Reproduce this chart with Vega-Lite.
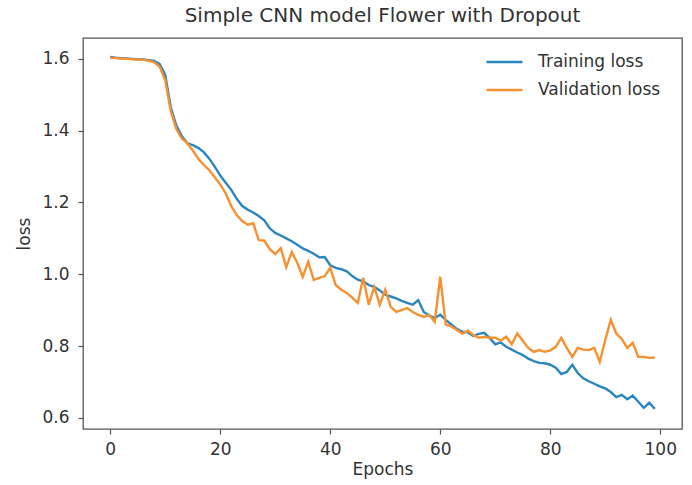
{
  "$schema": "https://vega.github.io/schema/vega-lite/v6.json",
  "autosize": "none",
  "width": 599,
  "height": 391,
  "padding": {"left": 83, "top": 38, "right": 10, "bottom": 56},
  "background": "white",
  "title": {
    "text": "Simple CNN model Flower with Dropout",
    "anchor": "middle",
    "font": "DejaVu Sans",
    "fontSize": 20,
    "fontWeight": "normal",
    "color": "#333333",
    "offset": 12
  },
  "config": {
    "view": {"stroke": "#555555", "strokeWidth": 1.3},
    "axis": {
      "grid": false,
      "domain": false,
      "tickColor": "#555555",
      "tickSize": 5,
      "tickWidth": 1.2,
      "labelFont": "DejaVu Sans",
      "labelFontSize": 17,
      "labelColor": "#333333",
      "titleFont": "DejaVu Sans",
      "titleFontSize": 17,
      "titleFontWeight": "normal",
      "titleColor": "#333333"
    }
  },
  "data": {
    "values": [
      {"epoch": 0, "Training loss": 1.605, "Validation loss": 1.603},
      {"epoch": 1, "Training loss": 1.603, "Validation loss": 1.602},
      {"epoch": 2, "Training loss": 1.602, "Validation loss": 1.601},
      {"epoch": 3, "Training loss": 1.601, "Validation loss": 1.600},
      {"epoch": 4, "Training loss": 1.600, "Validation loss": 1.599},
      {"epoch": 5, "Training loss": 1.599, "Validation loss": 1.598},
      {"epoch": 6, "Training loss": 1.598, "Validation loss": 1.597},
      {"epoch": 7, "Training loss": 1.596, "Validation loss": 1.595},
      {"epoch": 8, "Training loss": 1.594, "Validation loss": 1.590},
      {"epoch": 9, "Training loss": 1.585, "Validation loss": 1.578},
      {"epoch": 10, "Training loss": 1.555, "Validation loss": 1.540},
      {"epoch": 11, "Training loss": 1.465, "Validation loss": 1.455},
      {"epoch": 12, "Training loss": 1.415, "Validation loss": 1.405},
      {"epoch": 13, "Training loss": 1.385, "Validation loss": 1.378},
      {"epoch": 14, "Training loss": 1.365, "Validation loss": 1.365},
      {"epoch": 15, "Training loss": 1.360, "Validation loss": 1.345},
      {"epoch": 16, "Training loss": 1.352, "Validation loss": 1.322},
      {"epoch": 17, "Training loss": 1.340, "Validation loss": 1.305},
      {"epoch": 18, "Training loss": 1.322, "Validation loss": 1.290},
      {"epoch": 19, "Training loss": 1.300, "Validation loss": 1.270},
      {"epoch": 20, "Training loss": 1.275, "Validation loss": 1.250},
      {"epoch": 21, "Training loss": 1.255, "Validation loss": 1.225},
      {"epoch": 22, "Training loss": 1.235, "Validation loss": 1.190},
      {"epoch": 23, "Training loss": 1.210, "Validation loss": 1.165},
      {"epoch": 24, "Training loss": 1.190, "Validation loss": 1.148},
      {"epoch": 25, "Training loss": 1.180, "Validation loss": 1.138},
      {"epoch": 26, "Training loss": 1.172, "Validation loss": 1.142},
      {"epoch": 27, "Training loss": 1.162, "Validation loss": 1.095},
      {"epoch": 28, "Training loss": 1.150, "Validation loss": 1.094},
      {"epoch": 29, "Training loss": 1.128, "Validation loss": 1.070},
      {"epoch": 30, "Training loss": 1.115, "Validation loss": 1.056},
      {"epoch": 31, "Training loss": 1.108, "Validation loss": 1.073},
      {"epoch": 32, "Training loss": 1.100, "Validation loss": 1.020},
      {"epoch": 33, "Training loss": 1.092, "Validation loss": 1.062},
      {"epoch": 34, "Training loss": 1.082, "Validation loss": 1.032},
      {"epoch": 35, "Training loss": 1.072, "Validation loss": 0.993},
      {"epoch": 36, "Training loss": 1.065, "Validation loss": 1.035},
      {"epoch": 37, "Training loss": 1.057, "Validation loss": 0.984},
      {"epoch": 38, "Training loss": 1.047, "Validation loss": 0.990},
      {"epoch": 39, "Training loss": 1.048, "Validation loss": 0.995},
      {"epoch": 40, "Training loss": 1.025, "Validation loss": 1.018},
      {"epoch": 41, "Training loss": 1.018, "Validation loss": 0.970},
      {"epoch": 42, "Training loss": 1.014, "Validation loss": 0.957},
      {"epoch": 43, "Training loss": 1.008, "Validation loss": 0.948},
      {"epoch": 44, "Training loss": 0.995, "Validation loss": 0.935},
      {"epoch": 45, "Training loss": 0.985, "Validation loss": 0.920},
      {"epoch": 46, "Training loss": 0.980, "Validation loss": 0.990},
      {"epoch": 47, "Training loss": 0.970, "Validation loss": 0.915},
      {"epoch": 48, "Training loss": 0.965, "Validation loss": 0.965},
      {"epoch": 49, "Training loss": 0.955, "Validation loss": 0.915},
      {"epoch": 50, "Training loss": 0.943, "Validation loss": 0.957},
      {"epoch": 51, "Training loss": 0.938, "Validation loss": 0.909},
      {"epoch": 52, "Training loss": 0.933, "Validation loss": 0.895},
      {"epoch": 53, "Training loss": 0.926, "Validation loss": 0.900},
      {"epoch": 54, "Training loss": 0.920, "Validation loss": 0.906},
      {"epoch": 55, "Training loss": 0.915, "Validation loss": 0.895},
      {"epoch": 56, "Training loss": 0.928, "Validation loss": 0.887},
      {"epoch": 57, "Training loss": 0.895, "Validation loss": 0.881},
      {"epoch": 58, "Training loss": 0.885, "Validation loss": 0.887},
      {"epoch": 59, "Training loss": 0.878, "Validation loss": 0.867},
      {"epoch": 60, "Training loss": 0.887, "Validation loss": 0.993},
      {"epoch": 61, "Training loss": 0.873, "Validation loss": 0.860},
      {"epoch": 62, "Training loss": 0.860, "Validation loss": 0.855},
      {"epoch": 63, "Training loss": 0.848, "Validation loss": 0.845},
      {"epoch": 64, "Training loss": 0.840, "Validation loss": 0.835},
      {"epoch": 65, "Training loss": 0.838, "Validation loss": 0.843},
      {"epoch": 66, "Training loss": 0.828, "Validation loss": 0.831},
      {"epoch": 67, "Training loss": 0.834, "Validation loss": 0.823},
      {"epoch": 68, "Training loss": 0.837, "Validation loss": 0.826},
      {"epoch": 69, "Training loss": 0.822, "Validation loss": 0.823},
      {"epoch": 70, "Training loss": 0.805, "Validation loss": 0.823},
      {"epoch": 71, "Training loss": 0.810, "Validation loss": 0.815},
      {"epoch": 72, "Training loss": 0.798, "Validation loss": 0.826},
      {"epoch": 73, "Training loss": 0.790, "Validation loss": 0.805},
      {"epoch": 74, "Training loss": 0.782, "Validation loss": 0.835},
      {"epoch": 75, "Training loss": 0.775, "Validation loss": 0.815},
      {"epoch": 76, "Training loss": 0.765, "Validation loss": 0.795},
      {"epoch": 77, "Training loss": 0.758, "Validation loss": 0.784},
      {"epoch": 78, "Training loss": 0.753, "Validation loss": 0.789},
      {"epoch": 79, "Training loss": 0.752, "Validation loss": 0.784},
      {"epoch": 80, "Training loss": 0.748, "Validation loss": 0.788},
      {"epoch": 81, "Training loss": 0.740, "Validation loss": 0.798},
      {"epoch": 82, "Training loss": 0.722, "Validation loss": 0.823},
      {"epoch": 83, "Training loss": 0.728, "Validation loss": 0.795},
      {"epoch": 84, "Training loss": 0.748, "Validation loss": 0.770},
      {"epoch": 85, "Training loss": 0.725, "Validation loss": 0.795},
      {"epoch": 86, "Training loss": 0.710, "Validation loss": 0.790},
      {"epoch": 87, "Training loss": 0.702, "Validation loss": 0.789},
      {"epoch": 88, "Training loss": 0.695, "Validation loss": 0.795},
      {"epoch": 89, "Training loss": 0.688, "Validation loss": 0.756},
      {"epoch": 90, "Training loss": 0.682, "Validation loss": 0.817},
      {"epoch": 91, "Training loss": 0.672, "Validation loss": 0.873},
      {"epoch": 92, "Training loss": 0.658, "Validation loss": 0.835},
      {"epoch": 93, "Training loss": 0.664, "Validation loss": 0.820},
      {"epoch": 94, "Training loss": 0.652, "Validation loss": 0.795},
      {"epoch": 95, "Training loss": 0.662, "Validation loss": 0.809},
      {"epoch": 96, "Training loss": 0.645, "Validation loss": 0.770},
      {"epoch": 97, "Training loss": 0.628, "Validation loss": 0.770},
      {"epoch": 98, "Training loss": 0.642, "Validation loss": 0.767},
      {"epoch": 99, "Training loss": 0.625, "Validation loss": 0.768}
    ]
  },
  "transform": [
    {"fold": ["Training loss", "Validation loss"], "as": ["series", "loss"]}
  ],
  "mark": {"type": "line", "strokeWidth": 2.4, "clip": true},
  "encoding": {
    "x": {
      "field": "epoch",
      "type": "quantitative",
      "scale": {"domain": [-4.95, 103.95], "nice": false, "zero": false},
      "axis": {"title": "Epochs", "values": [0, 20, 40, 60, 80, 100], "format": "d", "labelPadding": 7, "titlePadding": 4}
    },
    "y": {
      "field": "loss",
      "type": "quantitative",
      "scale": {"domain": [0.569, 1.658], "nice": false, "zero": false},
      "axis": {"title": "loss", "values": [0.6, 0.8, 1.0, 1.2, 1.4, 1.6], "format": ".1f", "labelPadding": 9, "titlePadding": 8}
    },
    "color": {
      "field": "series",
      "type": "nominal",
      "scale": {"domain": ["Training loss", "Validation loss"], "range": ["#2b86bf", "#f7912f"]},
      "legend": {
        "title": null,
        "orient": "none",
        "legendX": 402,
        "legendY": 13,
        "padding": 0,
        "symbolType": "stroke",
        "symbolSize": 1296,
        "symbolStrokeWidth": 2.5,
        "clipHeight": 22,
        "rowPadding": 6,
        "labelOffset": 14,
        "labelFont": "DejaVu Sans",
        "labelFontSize": 17,
        "labelColor": "#333333"
      }
    }
  }
}
